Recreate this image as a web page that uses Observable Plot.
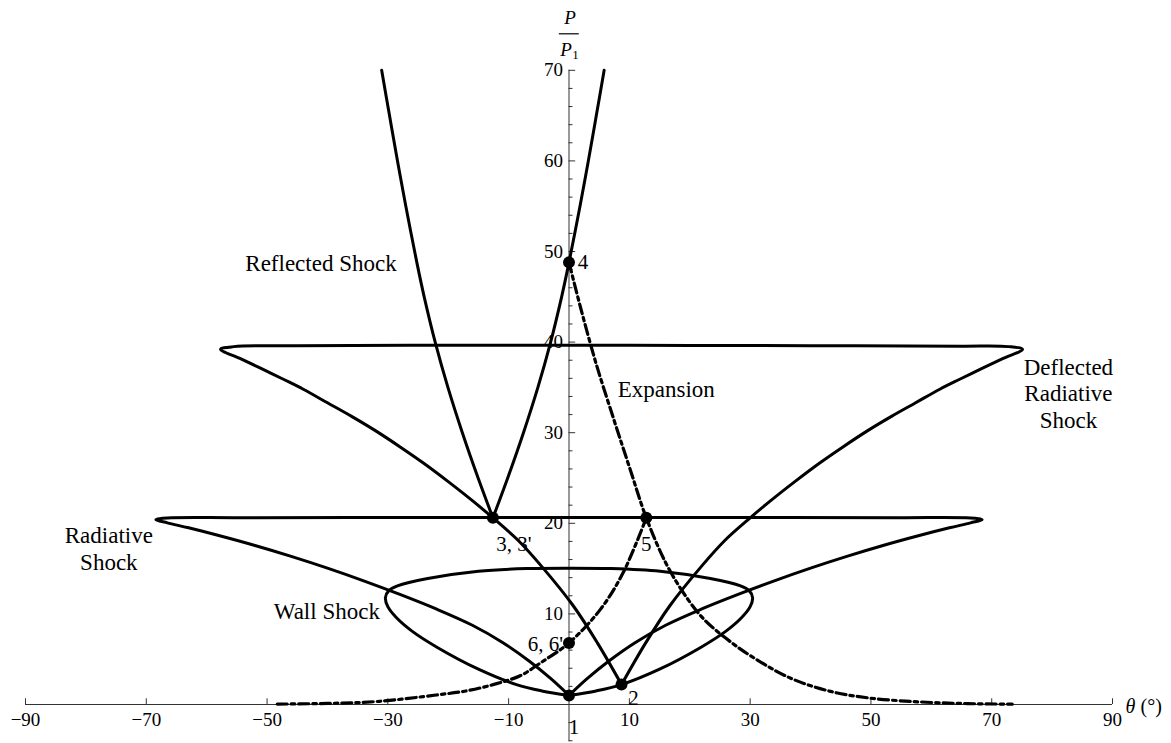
<!DOCTYPE html>
<html><head><meta charset="utf-8">
<script src="https://cdn.jsdelivr.net/npm/d3@7"></script>
<script src="https://cdn.jsdelivr.net/npm/@observablehq/plot@0.6"></script>
<style>html,body{margin:0;padding:0;background:#fff;} svg{display:block}</style>
</head><body><div id="chart"></div>
<script>
// ---- axis ticks ----
const xTicks = [-90, -70, -50, -30, -10, 10, 30, 50, 70, 90];
const xTickLabels = ["\u221290", "\u221270", "\u221250", "\u221230", "\u221210", "10", "30", "50", "70", "90"];
const yMajor = [10, 20, 30, 40, 50, 60, 70];
const yMinor = [-4, -2, 2, 4, 6, 8, 12, 14, 16, 18, 22, 24, 26, 28, 32, 34, 36, 38, 42, 44, 46, 48, 52, 54, 56, 58, 62, 64, 66, 68];

// ---- curves: [theta (deg), P/P1] ----
const wallShock = [[0,1.0],[-4.5,1.5],[-8.7,2.2],[-15,3.9],[-21.8,6.3],[-26,8.1],[-28.6,9.6],[-30.0,10.8],[-30.4,11.8],[-29.8,12.6],[-28.4,13.1],[-23.4,13.9],[-15,14.7],[-7,15.0],[0,15.05],[7,15.0],[15.1,14.7],[23.4,13.9],[28.4,13.1],[29.8,12.6],[30.4,11.8],[30.0,10.8],[28.6,9.6],[26,8.1],[21.8,6.3],[15,3.9],[8.7,2.2],[4.5,1.5],[0,1.0]];

const radiativeShock = [[0,1.0],[-3,2.85],[-6.5,4.75],[-11,6.85],[-16,8.75],[-22,10.55],[-28,12.15],[-34,13.65],[-40,15.05],[-46,16.35],[-52,17.55],[-58,18.65],[-63,19.5],[-66.5,20.05],[-68.4,20.4],[-66.5,20.58],[-55,20.62],[-30,20.65],[0,20.65],[30,20.65],[55,20.62],[66.5,20.58],[68.4,20.4],[66.5,20.05],[63,19.5],[58,18.65],[52,17.55],[46,16.35],[40,15.05],[34,13.65],[28,12.15],[22,10.55],[16,8.75],[11,6.85],[6.5,4.75],[3,2.85],[0,1.0]];

const deflectedShock = [[8.7,2.2],[4.7,6.8],[0.7,10.9],[-4.6,15.3],[-8.4,18.1],[-12.6,20.6],[-16.0,22.5],[-20.0,24.6],[-24.0,26.6],[-27.9,28.4],[-32.0,30.2],[-36.0,31.8],[-40.0,33.3],[-44.0,34.8],[-47.3,35.9],[-51.0,37.1],[-54.5,38.2],[-57.7,39.2],[-55.5,39.5],[-45,39.6],[-20,39.65],[10,39.65],[40,39.6],[65,39.55],[72.8,39.5],[75.1,39.2],[71.9,38.2],[68.4,37.1],[64.7,35.9],[61.4,34.8],[57.4,33.3],[53.4,31.8],[49.4,30.2],[45.3,28.4],[41.4,26.6],[37.4,24.6],[33.4,22.5],[30.0,20.6],[25.8,18.1],[22.0,15.3],[16.7,10.9],[12.7,6.8],[8.7,2.2]];

const reflectedLeft = [[-12.6,20.6],[-15.05,25],[-17.66,30],[-20.05,35],[-22.16,40],[-23.98,45],[-25.2,48.8],[-27.02,55],[-28.4,60],[-29.72,65],[-31.02,70]];
const reflectedRight = [[-12.6,20.6],[-10.15,25],[-7.54,30],[-5.15,35],[-3.04,40],[-1.22,45],[0,48.8],[1.82,55],[3.2,60],[4.52,65],[5.82,70]];

const expansionA = [[0,48.8],[2,43.6],[4.5,37.6],[7.5,31.3],[10.2,25.8],[12.8,20.6],[16.2,15.4],[19.8,11.5],[22.5,9.3],[26,7.3],[30,5.4],[36.7,2.9],[43.3,1.45],[49.9,0.7],[58.2,0.28],[66,0.1],[73.4,0.04]];
const expansionB = [[-48.3,0.05],[-40,0.12],[-31.4,0.35],[-22,1.05],[-17,1.5],[-12,2.3],[-8,3.2],[-4.7,4.6],[0,6.8],[5.2,10.5],[9.0,14.6],[12.8,20.6]];

// ---- states ----
const states = [[0,1.0],[8.7,2.2],[-12.6,20.6],[0,48.8],[12.8,20.6],[0,6.8]];
const stateNames = ["1", "2", "3, 3'", "4", "5", "6, 6'"];

// ---- annotations ----
const annotationText = ["Reflected Shock", "Expansion", "Radiative\nShock", "Wall Shock", "Deflected\nRadiative\nShock"];
const annotationAt = [[-53.6,48.8],[16.1,34.9],[-76.2,17.3],[-40.1,10.4],[82.7,34.4]];

const X = d => d[0], Y = d => d[1];
const solid = {x: X, y: Y, curve: "catmull-rom", stroke: "black", strokeWidth: 3, strokeLinejoin: "round"};
const dashed = {...solid, strokeWidth: 3.2, strokeDasharray: "10,4,3.5,4"};
const serif = "Liberation Serif";

const st = i => [states[i]];
const lab = (i, opts) => Plot.text(st(i), {x: X, y: Y, text: () => stateNames[i], fontSize: 21, fontFamily: serif, fill: "black", ...opts});
const ann = (i, opts) => Plot.text([annotationAt[i]], {x: X, y: Y, text: () => annotationText[i], fontSize: 23, fontFamily: serif, fill: "black", lineHeight: 1.17, ...opts});

const chart = Plot.plot({
  width: 1171, height: 743,
  marginTop: 0, marginRight: 0, marginBottom: 0, marginLeft: 0,
  x: {domain: [-90, 90], range: [25, 1112], axis: null},
  y: {domain: [0, 70], range: [704, 69.8], axis: null},
  style: {fontFamily: serif, background: "white"},
  marks: [
    // axes
    Plot.ruleY([0], {x1: -90, x2: 90, stroke: "#333", strokeWidth: 1}),
    Plot.ruleX([0], {y1: -4.1, y2: 70, stroke: "#333", strokeWidth: 1}),
    Plot.ruleX(xTicks, {x: d => d, y1: 0, y2: 0.63, stroke: "#333", strokeWidth: 1}),
    Plot.ruleY(yMajor, {y: d => d, x1: 0, x2: 1.1, stroke: "#333", strokeWidth: 1}),
    Plot.ruleY(yMinor, {y: d => d, x1: 0, x2: 0.66, stroke: "#333", strokeWidth: 1}),
    Plot.text(xTicks, {x: d => d, y: () => 0, text: (d, i) => xTickLabels[i], dy: 15, fontSize: 19, fontFamily: serif, fill: "black"}),
    Plot.text(yMajor, {x: () => 0, y: d => d, text: d => String(d), textAnchor: "end", dx: -6, fontSize: 19, fontFamily: serif, fill: "black"}),
    // axis titles
    Plot.text([90], {x: d => d, y: () => 0, text: () => "\u03b8", fontStyle: "italic", textAnchor: "start", dx: 13, dy: 2, fontSize: 20, fontFamily: serif, fill: "black"}),
    Plot.text([90], {x: d => d, y: () => 0, text: () => "(\u00b0)", textAnchor: "start", dx: 28, dy: 2, fontSize: 20, fontFamily: serif, fill: "black"}),
    Plot.text([70], {x: () => 0, y: d => d, text: () => "P", fontStyle: "italic", dx: 1, dy: -52, fontSize: 19, fontFamily: serif, fill: "black"}),
    Plot.ruleY([70], {y: d => d, x1: -1.6, x2: 1.7, dy: -36.5, stroke: "black", strokeWidth: 1.2}),
    Plot.text([70], {x: () => 0, y: d => d, text: () => "P", fontStyle: "italic", dx: -3, dy: -20, fontSize: 19, fontFamily: serif, fill: "black"}),
    Plot.text([70], {x: () => 0, y: d => d, text: () => "1", dx: 6.5, dy: -15, fontSize: 13, fontFamily: serif, fill: "black"}),
    // curves
    Plot.line(wallShock, solid),
    Plot.line(radiativeShock, solid),
    Plot.line(deflectedShock, solid),
    Plot.line(reflectedLeft, solid),
    Plot.line(reflectedRight, solid),
    Plot.line(expansionA, dashed),
    Plot.line(expansionB, dashed),
    // states
    Plot.dot(states, {x: X, y: Y, r: 6, fill: "black"}),
    lab(0, {dx: 5, dy: 32}),
    lab(1, {dx: 12, dy: 14}),
    lab(2, {dx: 21, dy: 26}),
    lab(3, {dx: 14, dy: 0}),
    lab(4, {dx: 0, dy: 26}),
    lab(5, {textAnchor: "end", dx: -6, dy: 1}),
    // annotations
    ann(0, {textAnchor: "start"}),
    ann(1, {}),
    ann(2, {}),
    ann(3, {}),
    ann(4, {})
  ]
});
document.getElementById("chart").appendChild(chart);
</script></body></html>
